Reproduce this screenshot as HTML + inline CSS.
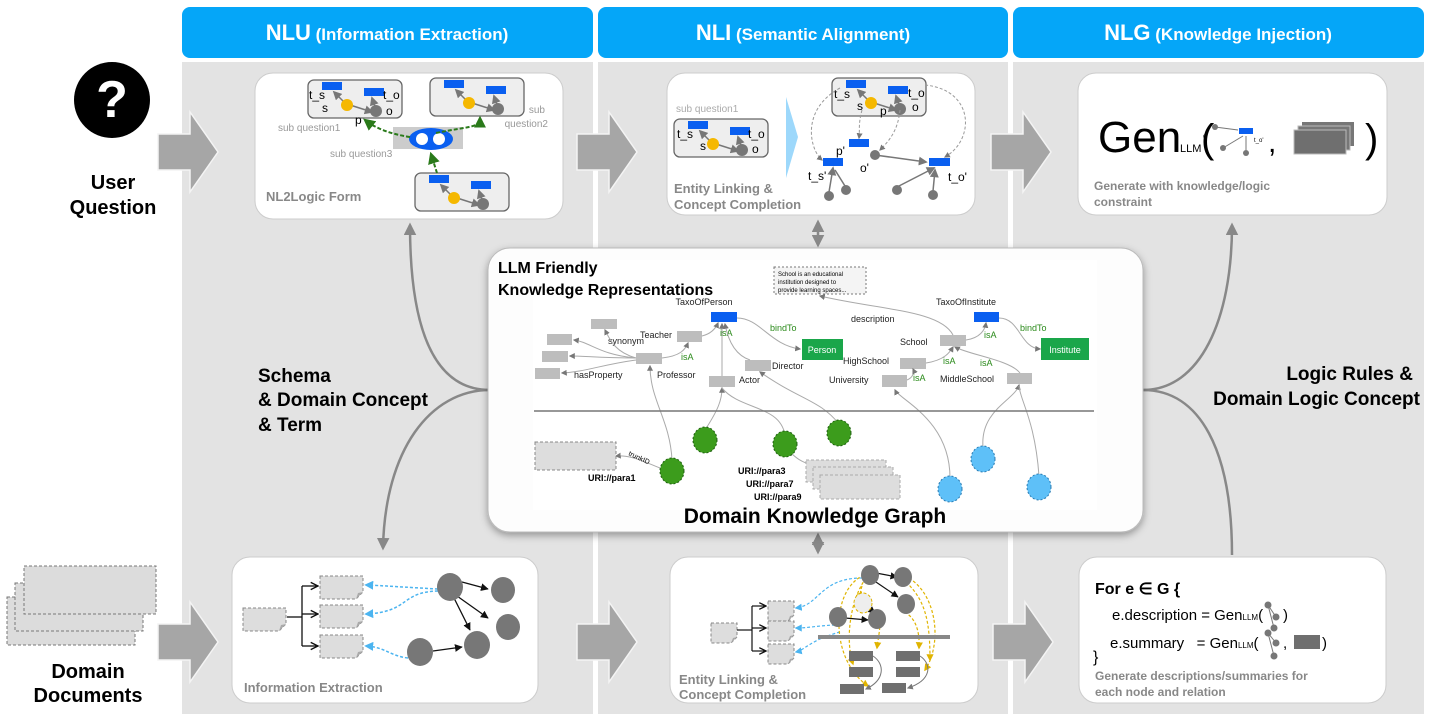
<!DOCTYPE html>
<html><head><meta charset="utf-8"><style>
html,body{margin:0;padding:0;background:#fff;}
svg{display:block;font-family:"Liberation Sans",Arial,sans-serif;}
</style></head><body>
<svg width="1430" height="721" viewBox="0 0 1430 721" xmlns="http://www.w3.org/2000/svg">
<defs>
<marker id="ag" viewBox="0 0 10 10" refX="8" refY="5" markerWidth="6" markerHeight="6" orient="auto-start-reverse"><path d="M0,0L10,5L0,10z" fill="#777"/></marker>
<marker id="ak" viewBox="0 0 10 10" refX="9" refY="5" markerWidth="6" markerHeight="6" orient="auto"><path d="M0,0L10,5L0,10z" fill="#111"/></marker>
<marker id="ao" viewBox="0 0 10 10" refX="9" refY="5" markerWidth="7" markerHeight="7" orient="auto"><path d="M1,1L9,5L1,9" fill="none" stroke="#111" stroke-width="1.5"/></marker>
<marker id="agr" viewBox="0 0 10 10" refX="8" refY="5" markerWidth="6" markerHeight="6" orient="auto"><path d="M0,0L10,5L0,10z" fill="#2a7a1a"/></marker>
<marker id="ab" viewBox="0 0 10 10" refX="8" refY="5" markerWidth="6" markerHeight="6" orient="auto"><path d="M0,0L10,5L0,10z" fill="#4bb4f0"/></marker>
<marker id="ay" viewBox="0 0 10 10" refX="8" refY="5" markerWidth="6" markerHeight="6" orient="auto"><path d="M0,0L10,5L0,10z" fill="#e0b400"/></marker>
<marker id="abig" viewBox="0 0 10 10" refX="8" refY="5" markerWidth="5" markerHeight="5" orient="auto-start-reverse"><path d="M0,0L10,5L0,10z" fill="#888"/></marker>
<filter id="sh" x="-5%" y="-5%" width="110%" height="115%"><feDropShadow dx="0" dy="3" stdDeviation="4" flood-color="#000" flood-opacity="0.35"/></filter>
<g id="sq">
 <rect x="0" y="0" width="94" height="38" rx="6" fill="#eee" stroke="#666" stroke-width="1.3"/>
 <rect x="14" y="2" width="20" height="8" fill="#0a5ff0"/>
 <rect x="56" y="8" width="20" height="8" fill="#0a5ff0"/>
 <line x1="38" y1="24" x2="26" y2="12" stroke="#777" stroke-width="1.5" marker-end="url(#ag)"/>
 <line x1="42" y1="25" x2="64" y2="32" stroke="#777" stroke-width="1.5" marker-end="url(#ag)"/>
 <line x1="68" y1="30" x2="64" y2="18" stroke="#777" stroke-width="1.5" marker-end="url(#ag)"/>
 <circle cx="39" cy="25" r="6" fill="#f5b800"/>
 <circle cx="68" cy="31" r="6" fill="#777"/>
</g>
<g id="bigarrow"><path d="M0,22 H32 V0 L60,40 L32,80 V58 H0z" fill="#a6a6a6" stroke="#f4f4f4" stroke-width="1.5"/></g>
<g id="doc"><path d="M0,0 H43 V16 L36,23 H0z" fill="#ddd" stroke="#888" stroke-dasharray="3,2"/><path d="M36,23 L38,17 L43,16" fill="#aaa"/></g>
<g id="docs"><path d="M0,0 H26 V14 L20,20 H0z" fill="#ddd" stroke="#888" stroke-dasharray="3,2"/><path d="M20,20 L22,15 L26,14" fill="#aaa"/></g>
</defs>

<!-- column backgrounds -->
<rect x="182" y="62" width="411" height="652" fill="#e3e3e3"/>
<rect x="598" y="62" width="410" height="652" fill="#e3e3e3"/>
<rect x="1013" y="62" width="411" height="652" fill="#e3e3e3"/>

<!-- headers -->
<rect x="182" y="7" width="411" height="51" rx="8" fill="#05a6f8"/>
<rect x="598" y="7" width="410" height="51" rx="8" fill="#05a6f8"/>
<rect x="1013" y="7" width="411" height="51" rx="8" fill="#05a6f8"/>
<text x="387" y="40" text-anchor="middle" fill="#fff" font-weight="bold"><tspan font-size="22">NLU</tspan><tspan font-size="17"> (Information Extraction)</tspan></text>
<text x="803" y="40" text-anchor="middle" fill="#fff" font-weight="bold"><tspan font-size="22">NLI</tspan><tspan font-size="17"> (Semantic Alignment)</tspan></text>
<text x="1218" y="40" text-anchor="middle" fill="#fff" font-weight="bold"><tspan font-size="22">NLG</tspan><tspan font-size="17"> (Knowledge Injection)</tspan></text>

<!-- left side -->
<circle cx="112" cy="100" r="38" fill="#000"/>
<text x="112" y="117" text-anchor="middle" fill="#fff" font-size="52" font-weight="bold">?</text>
<text x="113" y="189" text-anchor="middle" font-size="20" font-weight="bold">User</text>
<text x="113" y="214" text-anchor="middle" font-size="20" font-weight="bold">Question</text>
<g stroke="#777" stroke-dasharray="3,2" fill="#dcdcdc">
 <rect x="7" y="597" width="128" height="48"/>
 <rect x="15" y="583" width="128" height="48"/>
 <rect x="24" y="566" width="132" height="48"/>
</g>
<text x="88" y="678" text-anchor="middle" font-size="20" font-weight="bold">Domain</text>
<text x="88" y="702" text-anchor="middle" font-size="20" font-weight="bold">Documents</text>

<!-- top cards -->
<rect x="255" y="73" width="308" height="146" rx="18" fill="#fff" stroke="#ccc"/>
<rect x="667" y="73" width="308" height="142" rx="18" fill="#fff" stroke="#ccc"/>
<rect x="1078" y="73" width="309" height="142" rx="18" fill="#fff" stroke="#ccc"/>

<!-- bottom cards -->
<rect x="232" y="557" width="306" height="146" rx="18" fill="#fff" stroke="#ccc"/>
<rect x="670" y="557" width="308" height="146" rx="18" fill="#fff" stroke="#ccc"/>
<rect x="1079" y="557" width="307" height="146" rx="18" fill="#fff" stroke="#ccc"/>

<!-- big arrows -->
<use href="#bigarrow" x="158" y="112"/>
<use href="#bigarrow" x="577" y="112"/>
<use href="#bigarrow" x="991" y="112"/>
<use href="#bigarrow" x="158" y="602"/>
<use href="#bigarrow" x="577" y="602"/>
<use href="#bigarrow" x="993" y="602"/>

<!-- NLU card -->
<use href="#sq" x="308" y="80"/>
<use href="#sq" x="430" y="78"/>
<use href="#sq" x="415" y="173"/>
<text x="309" y="99" font-size="12">t_s</text><text x="322" y="112" font-size="12">s</text>
<text x="383" y="99" font-size="12">t_o</text><text x="355" y="124" font-size="12">p</text><text x="386" y="115" font-size="12">o</text>
<rect x="393" y="127" width="70" height="22" fill="#ccc"/>
<ellipse cx="431" cy="139" rx="22" ry="11" fill="#0a5ff0"/>
<circle cx="422" cy="139" r="6" fill="#fff"/><circle cx="439" cy="139" r="6" fill="#fff"/>
<path d="M410,137 C390,134 375,128 365,120" fill="none" stroke="#2a7a1a" stroke-width="2" stroke-dasharray="4,2" marker-end="url(#agr)"/>
<path d="M436,133 C470,126 480,128 480,118" fill="none" stroke="#2a7a1a" stroke-width="2" stroke-dasharray="4,2" marker-end="url(#agr)"/>
<path d="M437,173 L431,154" fill="none" stroke="#2a7a1a" stroke-width="2" stroke-dasharray="4,2" marker-end="url(#agr)"/>
<text x="278" y="131" font-size="10" fill="#999">sub question1</text>
<text x="545" y="113" font-size="10" fill="#999" text-anchor="end">sub</text>
<text x="548" y="127" font-size="10" fill="#999" text-anchor="end">question2</text>
<text x="330" y="157" font-size="10" fill="#999">sub question3</text>
<text x="266" y="201" font-size="13" font-weight="bold" fill="#888">NL2Logic Form</text>

<!-- NLI top card -->
<use href="#sq" x="674" y="119"/>
<text x="677" y="138" font-size="12">t_s</text><text x="700" y="150" font-size="12">s</text>
<text x="748" y="138" font-size="12">t_o</text><text x="752" y="153" font-size="12">o</text>
<text x="676" y="112" font-size="10" fill="#aaa">sub question1</text>
<path d="M786,97 L798,137 L786,178z" fill="#9dd8fb"/>
<use href="#sq" x="832" y="78"/>
<text x="834" y="98" font-size="12">t_s</text><text x="857" y="110" font-size="12">s</text>
<text x="908" y="97" font-size="12">t_o</text><text x="912" y="111" font-size="12">o</text><text x="880" y="115" font-size="12">p</text>
<rect x="849" y="139" width="20" height="8" fill="#0a5ff0"/><text x="836" y="155" font-size="12">p'</text>
<rect x="823" y="158" width="20" height="8" fill="#0a5ff0"/><text x="808" y="180" font-size="12">t_s'</text>
<rect x="929" y="158" width="21" height="8" fill="#0a5ff0"/><text x="948" y="181" font-size="12">t_o'</text>
<circle cx="875" cy="155" r="5" fill="#777"/><text x="860" y="172" font-size="12">o'</text>
<circle cx="829" cy="196" r="5" fill="#777"/><circle cx="846" cy="190" r="5" fill="#777"/>
<circle cx="897" cy="190" r="5" fill="#777"/><circle cx="933" cy="195" r="5" fill="#777"/>
<g stroke="#777" stroke-width="1.5" fill="none">
<line x1="875" y1="155" x2="926" y2="162" marker-end="url(#ag)"/>
<line x1="829" y1="192" x2="833" y2="168" marker-end="url(#ag)"/>
<line x1="845" y1="186" x2="835" y2="170"/>
<line x1="897" y1="187" x2="934" y2="168" marker-end="url(#ag)"/>
<line x1="933" y1="191" x2="935" y2="170" marker-end="url(#ag)"/>
</g>
<g stroke="#999" stroke-width="1" fill="none" stroke-dasharray="3,2">
<path d="M840,88 C800,110 810,150 822,160" marker-end="url(#ag)"/>
<path d="M862,110 C858,125 860,130 859,138" marker-end="url(#ag)"/>
<path d="M900,110 C898,130 890,140 880,150" marker-end="url(#ag)"/>
<path d="M925,85 C975,90 975,140 945,157" marker-end="url(#ag)"/>
</g>
<text x="674" y="193" font-size="13" font-weight="bold" fill="#888">Entity Linking &amp;</text>
<text x="674" y="209" font-size="13" font-weight="bold" fill="#888">Concept Completion</text>

<!-- NLG top card -->
<text x="1098" y="152" font-size="44">Gen</text>
<text x="1180" y="152" font-size="11">LLM</text>
<text x="1201" y="152" font-size="40">(</text>
<circle cx="1215" cy="127" r="3" fill="#777"/><text x="1203" y="138" font-size="6">o'</text>
<rect x="1239" y="128" width="14" height="6" fill="#0a5ff0"/><text x="1254" y="142" font-size="6">t_o'</text>
<line x1="1215" y1="127" x2="1238" y2="130" stroke="#777"/><circle cx="1223" cy="148" r="3" fill="#777"/><line x1="1223" y1="148" x2="1243" y2="136" stroke="#777"/><circle cx="1246" cy="153" r="3" fill="#777"/><line x1="1246" y1="150" x2="1246" y2="136" stroke="#777"/>
<text x="1268" y="152" font-size="30">,</text>
<rect x="1302" y="122" width="52" height="24" fill="#777"/>
<rect x="1298" y="126" width="52" height="24" fill="#777" stroke="#bbb"/>
<rect x="1294" y="130" width="52" height="24" fill="#6f6f6f" stroke="#bbb"/>
<text x="1365" y="152" font-size="40">)</text>
<text x="1094" y="190" font-size="12" font-weight="bold" fill="#888">Generate with knowledge/logic</text>
<text x="1094" y="206" font-size="12" font-weight="bold" fill="#888">constraint</text>

<!-- Info extraction -->
<use href="#doc" x="243" y="608"/>
<use href="#doc" x="320" y="576"/><use href="#doc" x="320" y="605"/><use href="#doc" x="320" y="635"/>
<g stroke="#111" stroke-width="1.3" fill="none">
<line x1="287" y1="617" x2="302" y2="617"/>
<path d="M302,586 V646"/><line x1="302" y1="586" x2="318" y2="586" marker-end="url(#ao)"/><line x1="302" y1="614" x2="318" y2="614" marker-end="url(#ao)"/><line x1="302" y1="646" x2="318" y2="646" marker-end="url(#ao)"/>
<line x1="462" y1="582" x2="488" y2="589" marker-end="url(#ak)"/>
<line x1="457" y1="596" x2="488" y2="618" marker-end="url(#ak)"/>
<line x1="454" y1="598" x2="470" y2="630" marker-end="url(#ak)"/>
<line x1="433" y1="651" x2="462" y2="647" marker-end="url(#ak)"/>
</g>
<g stroke="#4bb4f0" stroke-width="1.5" fill="none" stroke-dasharray="3,2">
<path d="M438,589 C400,587 390,586 366,585" marker-end="url(#ab)"/>
<path d="M438,591 C400,592 410,612 366,614" marker-end="url(#ab)"/>
<path d="M408,658 C390,656 385,647 366,646" marker-end="url(#ab)"/>
</g>
<ellipse cx="450" cy="587" rx="13" ry="14" fill="#777"/>
<ellipse cx="503" cy="590" rx="12" ry="13" fill="#777"/>
<ellipse cx="508" cy="627" rx="12" ry="13" fill="#777"/>
<ellipse cx="477" cy="645" rx="13" ry="14" fill="#777"/>
<ellipse cx="420" cy="652" rx="13" ry="14" fill="#777"/>
<text x="244" y="692" font-size="13" font-weight="bold" fill="#888">Information Extraction</text>

<!-- bottom NLI -->
<use href="#docs" x="711" y="623"/>
<use href="#docs" x="768" y="601"/><use href="#docs" x="768" y="621"/><use href="#docs" x="768" y="644"/>
<g stroke="#111" stroke-width="1.2" fill="none">
<line x1="737" y1="630" x2="752" y2="630"/><path d="M752,606 V651"/>
<line x1="752" y1="606" x2="766" y2="606" marker-end="url(#ao)"/><line x1="752" y1="628" x2="766" y2="628" marker-end="url(#ao)"/><line x1="752" y1="651" x2="766" y2="651" marker-end="url(#ao)"/>
<line x1="876" y1="573" x2="897" y2="577" marker-end="url(#ak)"/>
<line x1="873" y1="580" x2="898" y2="597" marker-end="url(#ak)"/>
<line x1="862" y1="603" x2="875" y2="613" marker-end="url(#ak)"/>
<line x1="845" y1="618" x2="868" y2="620" marker-end="url(#ak)"/>
</g>
<g stroke="#4bb4f0" stroke-width="1.2" fill="none" stroke-dasharray="3,2">
<path d="M862,578 C820,578 820,605 796,608" marker-end="url(#ab)"/>
<path d="M840,625 C820,625 810,628 796,628" marker-end="url(#ab)"/>
<path d="M840,632 C810,640 805,650 796,652" marker-end="url(#ab)"/>
</g>
<g stroke="#e0b400" stroke-width="1.2" fill="none" stroke-dasharray="3,2">
<path d="M864,575 C830,590 830,660 868,686" marker-end="url(#ay)"/>
<path d="M866,578 C850,600 845,640 853,664" marker-end="url(#ay)"/>
<path d="M906,582 C925,600 930,620 930,660" marker-end="url(#ay)"/>
<path d="M895,573 C935,580 945,640 925,670" marker-end="url(#ay)"/>
<path d="M880,622 C880,630 878,640 877,648" marker-end="url(#ay)"/>
<path d="M900,610 C915,615 920,630 919,648" marker-end="url(#ay)"/>
<path d="M862,586 C860,592 860,595 862,598" marker-end="url(#ay)"/>
</g>
<ellipse cx="870" cy="575" rx="9" ry="10" fill="#777"/>
<ellipse cx="903" cy="577" rx="9" ry="10" fill="#777"/>
<ellipse cx="906" cy="604" rx="9" ry="10" fill="#777"/>
<ellipse cx="863" cy="603" rx="9" ry="10" fill="#eee" stroke="#e0b400" stroke-dasharray="3,2"/>
<ellipse cx="877" cy="619" rx="9" ry="10" fill="#777"/>
<ellipse cx="838" cy="617" rx="9" ry="10" fill="#777"/>
<rect x="818" y="635" width="132" height="4" fill="#888"/>
<g fill="#6f6f6f">
<rect x="849" y="651" width="24" height="10"/><rect x="896" y="651" width="24" height="10"/>
<rect x="849" y="667" width="24" height="10"/><rect x="896" y="667" width="24" height="10"/>
<rect x="840" y="684" width="24" height="10"/><rect x="882" y="683" width="24" height="10"/>
</g>
<g stroke="#777" fill="none"><path d="M873,656 C885,664 885,680 866,689" marker-end="url(#ag)"/><path d="M920,656 C932,664 932,680 908,688" marker-end="url(#ag)"/></g>
<text x="679" y="684" font-size="13" font-weight="bold" fill="#888">Entity Linking &amp;</text>
<text x="679" y="699" font-size="13" font-weight="bold" fill="#888">Concept Completion</text>

<!-- bottom NLG -->
<text x="1095" y="594" font-size="16" font-weight="bold">For e ∈ G {</text>
<text x="1112" y="620" font-size="15">e.description = Gen<tspan font-size="8">LLM</tspan>(</text>
<text x="1110" y="648" font-size="15">e.summary &#160;&#160;= Gen<tspan font-size="8">LLM</tspan>(</text>
<text x="1093" y="662" font-size="16">}</text>
<g fill="#777" stroke="#777">
<circle cx="1268" cy="605" r="3"/><circle cx="1276" cy="617" r="3"/><circle cx="1274" cy="628" r="3"/><line x1="1268" y1="605" x2="1276" y2="617"/><line x1="1268" y1="605" x2="1274" y2="628"/>
<circle cx="1268" cy="633" r="3"/><circle cx="1276" cy="643" r="3"/><circle cx="1274" cy="656" r="3"/><line x1="1268" y1="633" x2="1276" y2="643"/><line x1="1268" y1="633" x2="1274" y2="656"/>
</g>
<text x="1283" y="620" font-size="15">)</text>
<text x="1283" y="648" font-size="15">,</text>
<rect x="1294" y="635" width="26" height="14" fill="#6f6f6f"/>
<text x="1322" y="648" font-size="15">)</text>
<text x="1095" y="680" font-size="12" font-weight="bold" fill="#888">Generate descriptions/summaries for</text>
<text x="1095" y="696" font-size="12" font-weight="bold" fill="#888">each node and relation</text>

<!-- side curved arrows -->
<g stroke="#888" stroke-width="2.5" fill="none">
<path d="M490,390 C430,390 410,320 410,225" marker-end="url(#abig)"/>
<path d="M490,390 C430,390 385,450 383,548" marker-end="url(#abig)"/>
<path d="M1143,390 C1200,390 1232,320 1232,225" marker-end="url(#abig)"/>
<path d="M1143,390 C1200,390 1232,450 1232,555"/>
<path d="M818,222 V245" marker-end="url(#abig)" marker-start="url(#abig)"/>
<path d="M818,535 V552" marker-end="url(#abig)" marker-start="url(#abig)"/>
</g>
<text x="258" y="382" font-size="19" font-weight="bold">Schema</text>
<text x="258" y="406" font-size="19" font-weight="bold">&amp; Domain Concept</text>
<text x="258" y="431" font-size="19" font-weight="bold">&amp; Term</text>
<text x="1413" y="380" font-size="19" font-weight="bold" text-anchor="end">Logic Rules &amp;</text>
<text x="1420" y="405" font-size="19" font-weight="bold" text-anchor="end">Domain Logic Concept</text>

<!-- center box -->
<rect x="488" y="248" width="655" height="284" rx="22" fill="#fdfdfd" stroke="#bbb" filter="url(#sh)"/>
<rect x="533" y="260" width="564" height="250" fill="#fff"/>
<text x="498" y="273" font-size="16" font-weight="bold">LLM Friendly</text>
<text x="498" y="295" font-size="16" font-weight="bold">Knowledge Representations</text>
<rect x="774" y="267" width="92" height="27" fill="#f4f4f4" stroke="#777" stroke-dasharray="2,2"/>
<text x="778" y="276" font-size="6">School is an educational</text>
<text x="778" y="284" font-size="6">institution designed to</text>
<text x="778" y="292" font-size="6">provide learning spaces...</text>
<g font-size="9" fill="#222">
<text x="704" y="305" text-anchor="middle">TaxoOfPerson</text>
<text x="966" y="305" text-anchor="middle">TaxoOfInstitute</text>
<text x="640" y="338">Teacher</text>
<text x="608" y="344">synonym</text>
<text x="574" y="378">hasProperty</text>
<text x="657" y="378">Professor</text>
<text x="739" y="383">Actor</text>
<text x="772" y="369">Director</text>
<text x="843" y="364">HighSchool</text>
<text x="829" y="383">University</text>
<text x="900" y="345">School</text>
<text x="940" y="382">MiddleSchool</text>
<text x="851" y="322">description</text>
</g>
<g font-size="9" fill="#2a8a1a">
<text x="770" y="331">bindTo</text><text x="720" y="336">isA</text><text x="681" y="360">isA</text>
<text x="1020" y="331">bindTo</text><text x="984" y="338">isA</text><text x="943" y="364">isA</text><text x="980" y="366">isA</text><text x="913" y="381">isA</text>
</g>
<g fill="#bdbdbd">
<rect x="591" y="319" width="26" height="10"/><rect x="547" y="334" width="25" height="11"/><rect x="542" y="351" width="26" height="11"/><rect x="535" y="368" width="25" height="11"/>
<rect x="677" y="331" width="25" height="11"/><rect x="636" y="353" width="26" height="11"/>
<rect x="709" y="376" width="26" height="11"/><rect x="745" y="360" width="26" height="11"/>
<rect x="940" y="335" width="26" height="11"/><rect x="900" y="358" width="26" height="11"/><rect x="882" y="375" width="25" height="12"/><rect x="1007" y="373" width="25" height="11"/>
</g>
<rect x="711" y="312" width="26" height="10" fill="#0a5ff0"/>
<rect x="974" y="312" width="25" height="10" fill="#0a5ff0"/>
<rect x="802" y="339" width="41" height="21" fill="#1aa64a"/><text x="822" y="353" font-size="9" fill="#fff" text-anchor="middle">Person</text>
<rect x="1041" y="338" width="48" height="22" fill="#1aa64a"/><text x="1065" y="353" font-size="9" fill="#fff" text-anchor="middle">Institute</text>
<g stroke="#aaa" stroke-width="1" fill="none">
<path d="M636,358 C615,352 610,340 605,330" marker-end="url(#ag)"/>
<path d="M636,358 C600,355 590,342 574,340" marker-end="url(#ag)"/>
<path d="M636,358 C600,358 585,356 570,356" marker-end="url(#ag)"/>
<path d="M636,360 C600,365 585,372 562,373" marker-end="url(#ag)"/>
<path d="M662,358 C680,356 685,350 688,343" marker-end="url(#ag)"/>
<path d="M702,336 C710,334 715,330 718,323" marker-end="url(#ag)"/>
<path d="M722,376 V324" marker-end="url(#ag)"/>
<path d="M750,360 C735,355 728,340 725,324" marker-end="url(#ag)"/>
<path d="M737,318 C760,318 770,345 800,349" marker-end="url(#ag)"/>
<path d="M966,340 C980,338 985,330 986,323" marker-end="url(#ag)"/>
<path d="M999,318 C1020,318 1020,348 1040,349" marker-end="url(#ag)"/>
<path d="M926,363 C945,360 950,352 953,347" marker-end="url(#ag)"/>
<path d="M907,380 C912,378 915,373 913,369" marker-end="url(#ag)"/>
<path d="M1020,373 C1010,360 970,355 955,347" marker-end="url(#ag)"/>
<path d="M953,335 C940,310 880,310 820,296" marker-end="url(#ag)"/>
<path d="M672,460 C670,420 650,400 650,366" marker-end="url(#ag)"/>
<path d="M705,430 C718,410 722,400 722,388" marker-end="url(#ag)"/>
<path d="M785,435 C780,405 740,410 722,388"/>
<path d="M839,424 C820,400 800,400 760,372" marker-end="url(#ag)"/>
<path d="M950,478 C950,420 900,400 895,390" marker-end="url(#ag)"/>
<path d="M983,447 C980,410 1015,400 1019,385" marker-end="url(#ag)"/>
<path d="M1039,476 C1035,420 1020,400 1019,386"/>
<path d="M660,468 C640,460 630,455 616,456" marker-end="url(#ag)"/>
<path d="M790,452 C800,462 805,462 810,465"/>
</g>
<text x="628" y="455" font-size="7" transform="rotate(25 628 455)">trunkID</text>
<line x1="534" y1="411" x2="1094" y2="411" stroke="#777" stroke-width="1.5"/>
<rect x="535" y="442" width="81" height="28" fill="#ddd" stroke="#888" stroke-dasharray="3,2"/>
<text x="588" y="481" font-size="9" font-weight="bold">URI://para1</text>
<rect x="806" y="460" width="80" height="22" fill="#ddd" stroke="#aaa" stroke-dasharray="3,2"/>
<rect x="813" y="467" width="80" height="22" fill="#ddd" stroke="#aaa" stroke-dasharray="3,2"/>
<rect x="820" y="475" width="80" height="24" fill="#ddd" stroke="#aaa" stroke-dasharray="3,2"/>
<text x="738" y="474" font-size="9" font-weight="bold">URI://para3</text>
<text x="746" y="487" font-size="9" font-weight="bold">URI://para7</text>
<text x="754" y="500" font-size="9" font-weight="bold">URI://para9</text>
<g fill="#3c9c1c" stroke="#1e5e10" stroke-dasharray="2,2">
<ellipse cx="705" cy="440" rx="12" ry="13"/><ellipse cx="785" cy="444" rx="12" ry="13"/><ellipse cx="839" cy="433" rx="12" ry="13"/><ellipse cx="672" cy="471" rx="12" ry="13"/>
</g>
<g fill="#5ec0f8" stroke="#2a7ab0" stroke-dasharray="2,2">
<ellipse cx="983" cy="459" rx="12" ry="13"/><ellipse cx="950" cy="489" rx="12" ry="13"/><ellipse cx="1039" cy="487" rx="12" ry="13"/>
</g>
<text x="815" y="523" font-size="21" font-weight="bold" text-anchor="middle">Domain Knowledge Graph</text>
</svg>
</body></html>
